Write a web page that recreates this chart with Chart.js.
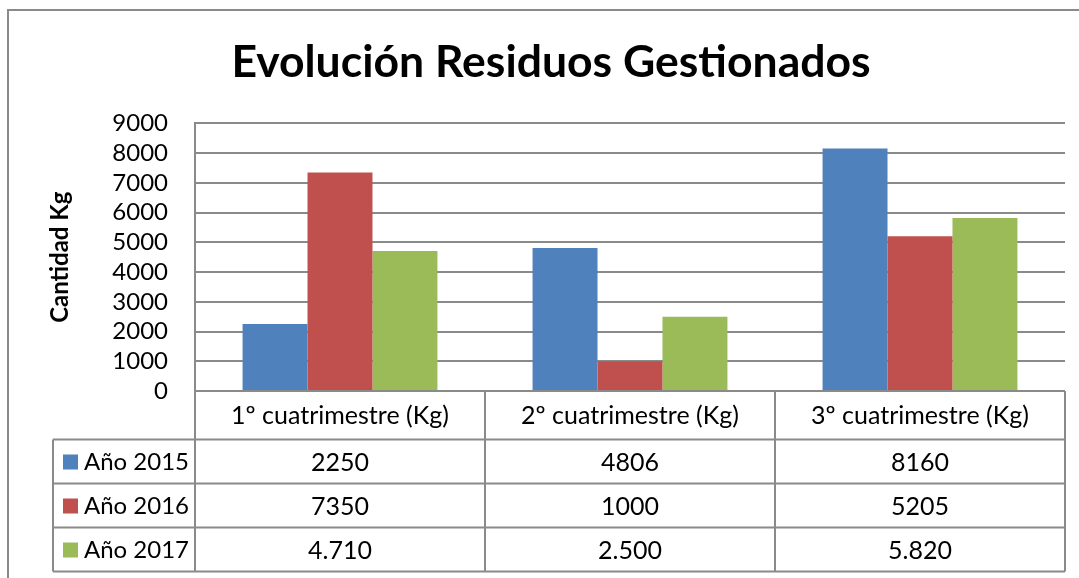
<!DOCTYPE html>
<html>
<head>
<meta charset="utf-8">
<script src="https://cdn.jsdelivr.net/npm/chart.js@4.4.0/dist/chart.umd.min.js"></script>
<style>
  html, body { margin: 0; padding: 0; background: #fff; }
  #wrap { position: relative; width: 1079px; height: 578px; }
</style>
</head>
<body>
<div id="wrap"><canvas id="chart"></canvas></div>
<script>
var categories = ['1º cuatrimestre (Kg)', '2º cuatrimestre (Kg)', '3º cuatrimestre (Kg)'];
var seriesNames = ['Año 2015', 'Año 2016', 'Año 2017'];
var values2015 = [2250, 4806, 8160];
var values2016 = [7350, 1000, 5205];
var values2017 = [4710, 2500, 5820];
var yTicks = [0, 1000, 2000, 3000, 4000, 5000, 6000, 7000, 8000, 9000];

var colors = ['#4F81BD', '#C0504D', '#9BBB59'];
var lineColor = '#8a8a8a';
var font = 'Lato';

// the 2017 row is shown with a dot as thousands separator
function withDots(v){
    return String(v).replace(/\B(?=(\d{3})+(?!\d))/g, '.');
}
var tableRows = [
    values2015.map(String),
    values2016.map(String),
    values2017.map(withDots)
];

var tablePlugin = {
    id: 'tablePlugin',
    beforeDraw: function(chart){
        var c = chart.ctx;
        c.save();
        c.strokeStyle = lineColor;
        c.lineWidth = 2;
        c.beginPath();
        c.moveTo(8, 578); c.lineTo(8, 10); c.lineTo(1079, 10);
        c.stroke();
        c.restore();
    },
    afterDraw: function(chart){
        var c = chart.ctx;
        var x = chart.scales.x;
        var area = chart.chartArea;
        var left = area.left, right = area.right;
        var colW = (right - left) / categories.length;
        var labelLeft = 53;
        var top = area.bottom;
        var headH = 48.5, rowH = 44;
        var bottom = top + headH + rowH * seriesNames.length;

        c.save();
        c.strokeStyle = lineColor;
        c.lineWidth = 2;
        c.beginPath();
        // horizontal lines
        c.moveTo(left, top); c.lineTo(right, top);
        for(var r = 0; r <= seriesNames.length; r++){
            var yy = top + headH + r * rowH;
            c.moveTo(labelLeft, yy); c.lineTo(right, yy);
        }
        // vertical lines
        for(var i = 0; i <= categories.length; i++){
            var xx = left + i * colW;
            c.moveTo(xx, top); c.lineTo(xx, bottom);
        }
        c.moveTo(labelLeft, top + headH); c.lineTo(labelLeft, bottom);
        c.stroke();

        c.fillStyle = '#000';
        c.font = '25px ' + font;
        c.textAlign = 'center';
        c.textBaseline = 'middle';
        categories.forEach(function(cat, i){
            c.fillText(cat, x.getPixelForValue(i), top + headH / 2 + 1);
        });
        tableRows.forEach(function(row, r){
            var cy = top + headH + r * rowH + rowH / 2 + 1;
            c.font = '25px ' + font;
            c.textAlign = 'center';
            row.forEach(function(txt, i){
                c.fillText(txt, x.getPixelForValue(i), cy);
            });
            c.fillStyle = colors[r];
            c.fillRect(63, cy - 8, 15, 15);
            c.fillStyle = '#000';
            c.font = '24px ' + font;
            c.textAlign = 'left';
            c.fillText(seriesNames[r], 84, cy);
        });
        c.restore();
    }
};

var datasets = [values2015, values2016, values2017].map(function(vals, i){
    return {
        label: seriesNames[i],
        data: vals,
        backgroundColor: colors[i],
        borderWidth: 0,
        categoryPercentage: 0.672,
        barPercentage: 1.0
    };
});

new Chart(document.getElementById('chart'), {
    type: 'bar',
    data: {
        labels: categories,
        datasets: datasets
    },
    options: {
        responsive: true,
        maintainAspectRatio: false,
        animation: false,
        layout: {
            padding: { left: 37, right: 14, top: 0, bottom: 187 }
        },
        plugins: {
            legend: { display: false },
            tooltip: { enabled: false },
            title: {
                display: true,
                text: 'Evolución Residuos Gestionados',
                color: '#000',
                font: { family: font, size: 44.5, weight: 'bold', lineHeight: 1.2 },
                padding: { top: 36, bottom: 34 }
            }
        },
        scales: {
            x: {
                ticks: { display: false },
                grid: { display: false, drawTicks: false },
                border: { display: false }
            },
            y: {
                min: 0,
                max: 9000,
                afterBuildTicks: function(scale){
                    scale.ticks = yTicks.map(function(v){ return { value: v }; });
                },
                afterFit: function(scale){ scale.width = 158; },
                ticks: {
                    color: '#000',
                    padding: 27,
                    autoSkip: false,
                    font: { family: font, size: 24 },
                    callback: function(v){ return String(v); }
                },
                grid: { color: lineColor, lineWidth: 2, drawTicks: false },
                border: { color: lineColor, width: 2 },
                title: {
                    display: true,
                    text: 'Cantidad Kg',
                    color: '#000',
                    font: { family: font, size: 24, weight: 'bold' },
                    padding: { top: 9, bottom: 0 }
                }
            }
        }
    },
    plugins: [tablePlugin]
});
</script>
</body>
</html>
